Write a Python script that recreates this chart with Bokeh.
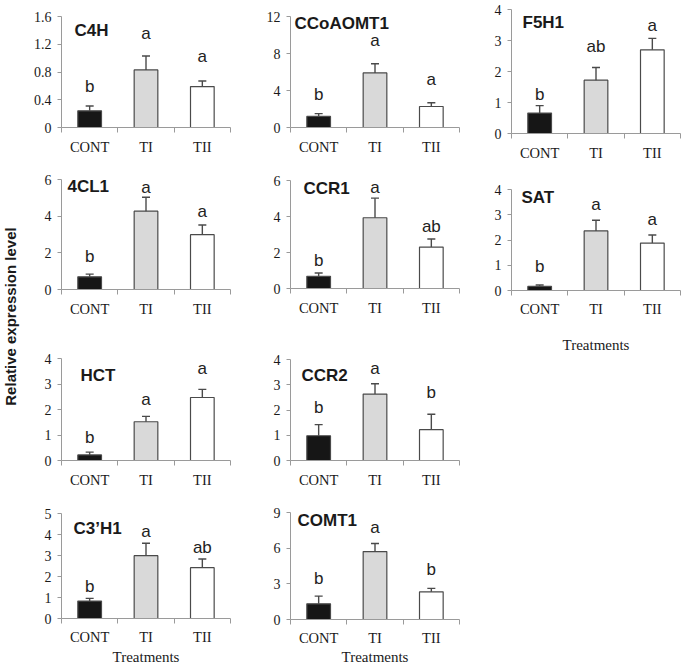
import math
from bokeh.plotting import figure
from bokeh.models import ColumnDataSource, Range1d, FixedTicker, Whisker, TeeHead, Label
from bokeh.layouts import row, column
from bokeh.embed import file_html
from bokeh.resources import INLINE
from bokeh.core.properties import value

# ---------------- data ----------------
categories = ["CONT", "TI", "TII"]

c4h_mean = [0.24, 0.83, 0.59]
c4h_err = [0.07, 0.20, 0.08]
c4h_letters = ["b", "a", "a"]
c4h_ticks = [0, 0.4, 0.8, 1.2, 1.6]
c4h_tick_labels = ["0", "0.4", "0.8", "1.2", "1.6"]

ccoaomt1_mean = [1.20, 5.90, 2.27]
ccoaomt1_err = [0.30, 1.00, 0.40]
ccoaomt1_letters = ["b", "a", "a"]
ccoaomt1_ticks = [0, 4, 8, 12]
ccoaomt1_tick_labels = ["0", "4", "8", "12"]

f5h1_mean = [0.66, 1.72, 2.70]
f5h1_err = [0.24, 0.41, 0.37]
f5h1_letters = ["b", "ab", "a"]
f5h1_ticks = [0, 1, 2, 3, 4]
f5h1_tick_labels = ["0", "1", "2", "3", "4"]

cl1_mean = [0.69, 4.27, 2.99]
cl1_err = [0.15, 0.76, 0.53]
cl1_letters = ["b", "a", "a"]
cl1_ticks = [0, 2, 4, 6]
cl1_tick_labels = ["0", "2", "4", "6"]

ccr1_mean = [0.68, 3.93, 2.30]
ccr1_err = [0.18, 1.09, 0.45]
ccr1_letters = ["b", "a", "ab"]
ccr1_ticks = [0, 2, 4, 6]
ccr1_tick_labels = ["0", "2", "4", "6"]

sat_mean = [0.16, 2.36, 1.88]
sat_err = [0.06, 0.42, 0.32]
sat_letters = ["b", "a", "a"]
sat_ticks = [0, 1, 2, 3, 4]
sat_tick_labels = ["0", "1", "2", "3", "4"]

hct_mean = [0.22, 1.52, 2.47]
hct_err = [0.11, 0.21, 0.32]
hct_letters = ["b", "a", "a"]
hct_ticks = [0, 1, 2, 3, 4]
hct_tick_labels = ["0", "1", "2", "3", "4"]

ccr2_mean = [0.98, 2.63, 1.22]
ccr2_err = [0.44, 0.41, 0.61]
ccr2_letters = ["b", "a", "b"]
ccr2_ticks = [0, 1, 2, 3, 4]
ccr2_tick_labels = ["0", "1", "2", "3", "4"]

c3h1_mean = [0.83, 2.99, 2.42]
c3h1_err = [0.13, 0.59, 0.41]
c3h1_letters = ["b", "a", "ab"]
c3h1_ticks = [0, 1, 2, 3, 4, 5]
c3h1_tick_labels = ["0", "1", "2", "3", "4", "5"]

comt1_mean = [1.32, 5.71, 2.33]
comt1_err = [0.65, 0.68, 0.29]
comt1_letters = ["b", "a", "b"]
comt1_ticks = [0, 3, 6, 9]
comt1_tick_labels = ["0", "3", "6", "9"]

y_title = "Relative expression level"
x_title = "Treatments"

# ---------------- styles ----------------
bar_colors = ["#161616", "#d9d9d9", "#ffffff"]
EDGE = "#4a4a4a"
AXIS = "#9a9a9a"
TXT = "#1a1a1a"
SERIF = "Liberation Serif"
SANS = "Liberation Sans"

# layout spec: left, frame_w, right, top, frame_h, bottom,
#              title_dx, title_dy, xtitle_standoff, letter gaps (px above the cap)
specs = {
    "C4H":        (32, 170, 4, 16, 111, 33, 13, 14, None, [14, 18, 20]),
    "4CL1":       (33, 171, 2, 19, 110, 41, 6, 7, None, [13, 5, 8]),
    "HCT":        (32, 171, 3, 28, 102, 30, 19, 17, None, [10, 12, 16]),
    "C3\u2019H1": (32, 171, 3, 23, 106, 48, 12, 15, 1, [7, 7, 7]),
    "CCoAOMT1":   (56, 175, 5, 16, 111, 33, 4, 7, None, [14, 18, 18]),
    "CCR1":       (49, 180, 7, 20, 108, 42, 13, 8, None, [8, 6, 8]),
    "CCR2":       (48, 182, 6, 29, 101, 30, 11, 16, None, [12, 10, 17]),
    "COMT1":      (48, 177, 11, 22, 107, 48, 7, 8, 0, [13, 11, 14]),
    "F5H1":       (38, 172, 4, 9, 124, 32, 11, 13, None, [6, 16, 8]),
    "SAT":        (41, 171, 2, 24, 101, 80, 10, 8, 17, [13, 11, 10]),
}


def make_panel(gene, mean, err, letters, yticks, ytick_labels):
    left, fw, right, top, fh, bottom, tdx, tdy, xstand, gaps = specs[gene]
    n = len(categories)
    p = figure(width=left + fw + right, height=top + fh + bottom,
               output_backend="svg", toolbar_location=None,
               x_range=Range1d(0, n), y_range=Range1d(yticks[0], yticks[-1]),
               min_border_left=left, min_border_right=right,
               min_border_top=top, min_border_bottom=bottom)
    p.outline_line_color = None
    p.grid.visible = False
    p.background_fill_color = "white"

    xs = [i + 0.5 for i in range(n)]
    src = ColumnDataSource(dict(
        x=xs, top=mean, upper=[m + e for m, e in zip(mean, err)],
        fill=bar_colors, letter=letters, dy=[-(g + 5) for g in gaps]))

    p.vbar(x="x", top="top", bottom=0, width=0.42, fill_color="fill",
           line_color=EDGE, line_width=1.2, source=src)
    p.add_layout(Whisker(source=src, base="x", lower="top", upper="upper",
                         line_color=EDGE, line_width=1.4, level="glyph",
                         upper_head=TeeHead(size=8, line_color=EDGE, line_width=1.4),
                         lower_head=None))
    p.text(x="x", y="upper", text="letter", source=src, text_align="center",
           text_baseline="alphabetic", y_offset="dy",
           text_font=value(SANS), text_font_size="17px", text_color="#222222")
    p.add_layout(Label(x=0, y=yticks[-1], text=gene, x_offset=tdx, y_offset=-tdy,
                       text_baseline="middle", text_align="left",
                       text_font=SANS, text_font_style="bold",
                       text_font_size="17px", text_color=TXT))

    xa = p.xaxis[0]
    xa.ticker = FixedTicker(ticks=xs, minor_ticks=list(range(n + 1)))
    xa.major_label_overrides = {x: c for x, c in zip(xs, categories)}
    xa.major_tick_out = 0
    xa.major_tick_in = 0
    xa.minor_tick_out = 5
    xa.minor_tick_in = 0
    xa.minor_tick_line_color = AXIS
    xa.axis_line_color = AXIS
    xa.major_label_standoff = 6 if xstand is None else 5
    xa.major_label_text_font = SERIF
    xa.major_label_text_font_size = "14.5px"
    xa.major_label_text_color = TXT
    if xstand is not None:
        xa.axis_label = x_title
        xa.axis_label_standoff = xstand
        xa.axis_label_text_font = SERIF
        xa.axis_label_text_font_size = "15px"
        xa.axis_label_text_font_style = "normal"
        xa.axis_label_text_color = TXT

    ya = p.yaxis[0]
    ya.ticker = FixedTicker(ticks=yticks)
    ya.major_label_overrides = {t: s for t, s in zip(yticks, ytick_labels)}
    ya.major_tick_out = 4
    ya.major_tick_in = 0
    ya.major_tick_line_color = AXIS
    ya.minor_tick_line_color = None
    ya.axis_line_color = AXIS
    ya.major_label_standoff = 6
    ya.major_label_text_font = SERIF
    ya.major_label_text_font_size = "14px"
    ya.major_label_text_color = TXT
    return p


A = [make_panel("C4H", c4h_mean, c4h_err, c4h_letters, c4h_ticks, c4h_tick_labels),
     make_panel("4CL1", cl1_mean, cl1_err, cl1_letters, cl1_ticks, cl1_tick_labels),
     make_panel("HCT", hct_mean, hct_err, hct_letters, hct_ticks, hct_tick_labels),
     make_panel("C3\u2019H1", c3h1_mean, c3h1_err, c3h1_letters, c3h1_ticks, c3h1_tick_labels)]
B = [make_panel("CCoAOMT1", ccoaomt1_mean, ccoaomt1_err, ccoaomt1_letters, ccoaomt1_ticks, ccoaomt1_tick_labels),
     make_panel("CCR1", ccr1_mean, ccr1_err, ccr1_letters, ccr1_ticks, ccr1_tick_labels),
     make_panel("CCR2", ccr2_mean, ccr2_err, ccr2_letters, ccr2_ticks, ccr2_tick_labels),
     make_panel("COMT1", comt1_mean, comt1_err, comt1_letters, comt1_ticks, comt1_tick_labels)]
C = [make_panel("F5H1", f5h1_mean, f5h1_err, f5h1_letters, f5h1_ticks, f5h1_tick_labels),
     make_panel("SAT", sat_mean, sat_err, sat_letters, sat_ticks, sat_tick_labels)]

# y-axis title strip
H = 667
yl = figure(width=28, height=H, output_backend="svg", toolbar_location=None,
            x_range=Range1d(0, 28), y_range=Range1d(0, H),
            x_axis_location=None, y_axis_location=None, min_border=0)
yl.grid.visible = False
yl.outline_line_color = None
yl.add_layout(Label(x=10, y=H - 316, text=y_title, angle=math.pi / 2,
                    text_align="center", text_baseline="middle",
                    text_font=SANS, text_font_style="bold",
                    text_font_size="15px", text_color=TXT))

p = row(yl, column(*A), column(*B), column(*C))

open("out.html", "w").write(file_html(p, INLINE))
